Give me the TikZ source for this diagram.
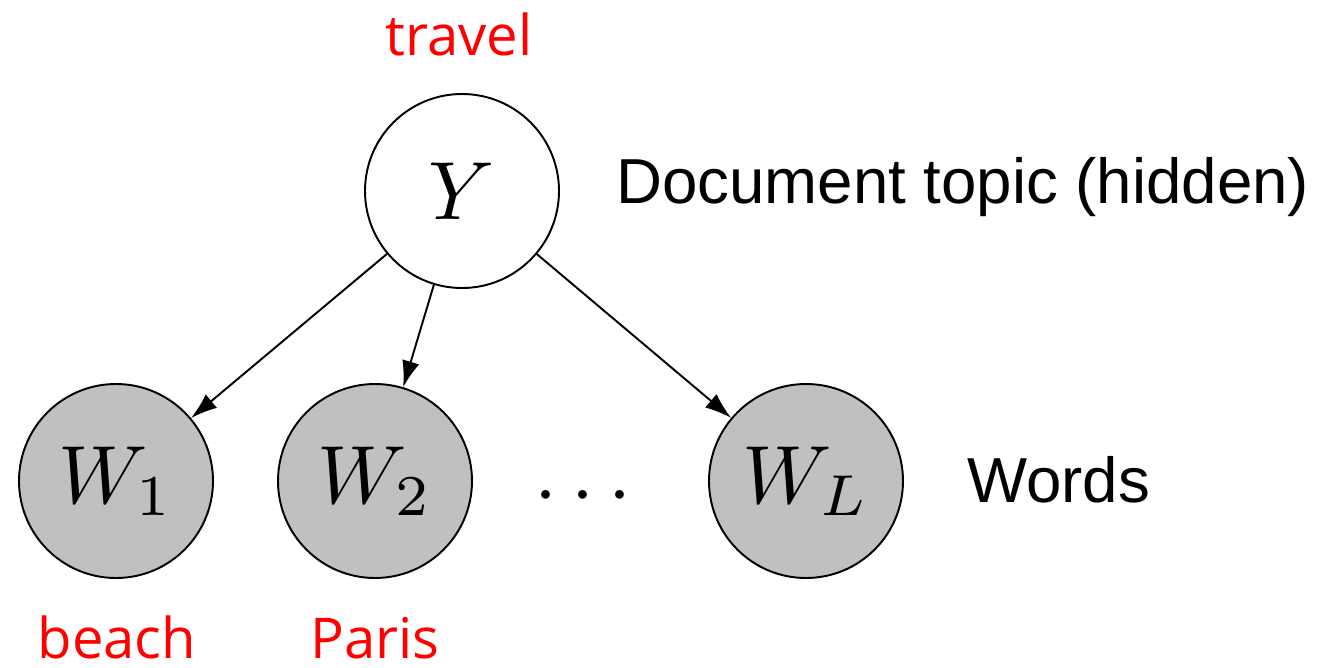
\documentclass[tikz,border=0pt]{standalone}
\usepackage{graphicx}
\usepackage{fontspec}
\newfontfamily\labelfont{Liberation Sans}
\newfontfamily\redfont{Open Sans}
\usetikzlibrary{arrows.meta}
\definecolor{nodegray}{RGB}{192,192,192}
\newlength{\pxu}
\setlength{\pxu}{0.02cm}
\newcommand{\nodemath}[1]{\scalebox{4.7}{$#1$}}
\tikzset{
  latentnode/.style={circle, draw=black, line width=1.1pt, fill=white, minimum size=194\pxu, inner sep=0pt},
  obsnode/.style={circle, draw=black, line width=1.1pt, fill=nodegray, minimum size=194\pxu, inner sep=0pt},
  edge/.style={line width=1.1pt, -{Latex[length=15pt,width=10pt]}},
  redlabel/.style={text=red, anchor=base, inner sep=0pt, text depth=0pt, font=\redfont\fontsize{32}{36}\selectfont},
  sidelabel/.style={anchor=base west, inner sep=0pt, font=\labelfont\fontsize{36.2}{40}\selectfont},
}
\begin{document}
\begin{tikzpicture}[x=0.02cm, y=-0.02cm]
\useasboundingbox (0,0) rectangle (1326,667);
\node[latentnode] (Y) at (462,191) {\nodemath{Y}};
\node[obsnode] (W1) at (116,481) {\nodemath{W_1}};
\node[obsnode] (W2) at (375,481) {\nodemath{W_2}};
\node[obsnode] (WL) at (806,481) {\nodemath{W_L}};
\node[inner sep=0pt] (dots) at (583,497) {\nodemath{\cdots}};
\draw[edge] (Y) -- (W1);
\draw[edge] (Y) -- (W2);
\draw[edge] (Y) -- (WL);
\node[redlabel] (travel) at (459,55) {travel};
\node[redlabel] (beach) at (117,658) {beach};
\node[redlabel] (paris) at (375,658) {Paris};
\node[sidelabel] (topic) at (616,203) {Document topic (hidden)};
\node[sidelabel] (words) at (967,502) {Words};
\end{tikzpicture}
\end{document}
